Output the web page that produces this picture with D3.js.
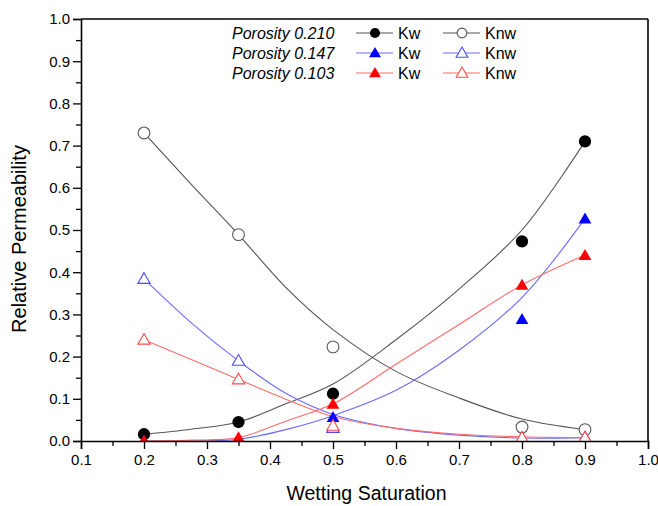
<!DOCTYPE html>
<html lang="en">
<head>
    <meta charset="UTF-8">
    <script src="https://cdn.jsdelivr.net/npm/d3@7"></script>
    <style>
        body { margin: 0; background: #fff; }
        text { font-family: Arial, "Liberation Sans", sans-serif; }
    </style>
</head>
<body>
<div id="chart"></div>
<script>
    // Measured points (x = wetting saturation)
    const satPts = [0.2, 0.35, 0.5, 0.8, 0.9];
    const kw210 = [0.016, 0.045, 0.112, 0.473, 0.710];
    const knw210 = [0.730, 0.489, 0.223, 0.033, 0.027];
    const kw147 = [0.0, 0.0, 0.056, 0.288, 0.526];
    const knw147 = [0.384, 0.190, 0.031, 0.005, 0.008];
    const kw103 = [0.0, 0.008, 0.087, 0.369, 0.440];
    const knw103 = [0.240, 0.146, 0.036, 0.008, 0.008];

    // Fitted curves at these saturations
    const fitSat = [0.2, 0.275, 0.35, 0.425, 0.5, 0.6, 0.7, 0.8, 0.9];
    const fitKw210 = [0.016, 0.028, 0.045, 0.088, 0.135, 0.240, 0.360, 0.500, 0.710];
    const fitKnw210 = [0.730, 0.608, 0.489, 0.364, 0.264, 0.165, 0.102, 0.052, 0.027];
    const fitKw147 = [0.0, 0.0, 0.004, 0.027, 0.060, 0.120, 0.215, 0.340, 0.527];
    const fitKnw147 = [0.384, 0.280, 0.190, 0.113, 0.063, 0.030, 0.014, 0.007, 0.008];
    const fitKw103 = [0.0, 0.002, 0.008, 0.047, 0.088, 0.182, 0.276, 0.370, 0.441];
    const fitKnw103 = [0.240, 0.193, 0.146, 0.099, 0.058, 0.030, 0.016, 0.010, 0.008];

    const legendLabels = ["Porosity 0.210", "Porosity 0.147", "Porosity 0.103"];
    const xTicks = [0.1, 0.2, 0.3, 0.4, 0.5, 0.6, 0.7, 0.8, 0.9, 1.0];
    const yTicks = [0.0, 0.1, 0.2, 0.3, 0.4, 0.5, 0.6, 0.7, 0.8, 0.9, 1.0];

    const WIDTH = 658, HEIGHT = 506;
    const margin = { top: 19, right: 10, bottom: 65, left: 81 };
    const w = WIDTH - margin.left - margin.right;
    const h = HEIGHT - margin.top - margin.bottom;

    // series styling: line colour, marker colour, marker type, filled?
    const series = [
        { pts: kw210, fit: fitKw210, line: "#555", mark: "#000", sym: d3.symbolCircle, size: 118, legSize: 80, fill: true },
        { pts: knw210, fit: fitKnw210, line: "#555", mark: "#555", sym: d3.symbolCircle, size: 110, legSize: 75, fill: false },
        { pts: kw147, fit: fitKw147, line: "#6b6bff", mark: "#0000ff", sym: d3.symbolTriangle, size: 70, legSize: 62, fill: true },
        { pts: knw147, fit: fitKnw147, line: "#6b6bff", mark: "#4a4aff", sym: d3.symbolTriangle, size: 66, legSize: 60, fill: false },
        { pts: kw103, fit: fitKw103, line: "#ff6b6b", mark: "#ff0000", sym: d3.symbolTriangle, size: 70, legSize: 62, fill: true },
        { pts: knw103, fit: fitKnw103, line: "#ff6b6b", mark: "#ff4a4a", sym: d3.symbolTriangle, size: 66, legSize: 60, fill: false },
    ];

    const svg = d3.select("#chart").append("svg")
        .attr("width", WIDTH)
        .attr("height", HEIGHT);

    const g = svg.append("g")
        .attr("transform", `translate(${margin.left},${margin.top})`);

    const x = d3.scaleLinear().domain([0.1, 1.0]).range([0, w]);
    const y = d3.scaleLinear().domain([0, 1.0]).range([h, 0]);

    g.append("clipPath").attr("id", "plotclip")
        .append("rect").attr("width", w).attr("height", h);

    const plot = g.append("g").attr("clip-path", "url(#plotclip)");

    // fitted lines
    const lineGen = d3.line()
        .x(d => x(d[0]))
        .y(d => y(d[1]))
        .curve(d3.curveCatmullRom.alpha(0.5));

    series.forEach(s => {
        plot.append("path")
            .datum(fitSat.map((v, i) => [v, s.fit[i]]))
            .attr("d", lineGen)
            .attr("fill", "none")
            .attr("stroke", s.line)
            .attr("stroke-width", 1.1);
    });

    // markers
    function symOffset(s, size) {
        // d3 triangles sit on the centroid; shift so the bbox is centred
        return s.sym === d3.symbolTriangle ? Math.sqrt(size / (3 * Math.sqrt(3))) * 0.25 : 0;
    }
    series.forEach(s => {
        plot.selectAll(null)
            .data(satPts.map((v, i) => [v, s.pts[i]]))
            .enter()
            .append("path")
            .attr("d", d3.symbol(s.sym, s.size))
            .attr("transform", d => `translate(${x(d[0])},${y(d[1]) + symOffset(s, s.size)})`)
            .attr("fill", s.fill ? s.mark : "#fff")
            .attr("stroke", s.mark)
            .attr("stroke-width", s.fill ? 0 : 1.1);
    });

    // axes
    const minorX = d3.range(0.15, 1.0, 0.1);
    const minorY = d3.range(0.05, 1.0, 0.1);

    g.append("g").attr("transform", `translate(0,${h})`)
        .call(d3.axisBottom(x).tickValues(xTicks).tickFormat(d3.format(".1f")).tickSize(8).tickPadding(5));
    g.append("g").attr("transform", `translate(0,${h})`)
        .call(d3.axisBottom(x).tickValues(minorX).tickFormat("").tickSize(5))
        .select(".domain").remove();

    g.append("g")
        .call(d3.axisLeft(y).tickValues(yTicks).tickFormat(d3.format(".1f")).tickSize(8).tickPadding(3));
    g.append("g")
        .call(d3.axisLeft(y).tickValues(minorY).tickFormat("").tickSize(5))
        .select(".domain").remove();

    g.selectAll(".tick line").attr("stroke", "#000").attr("stroke-width", 1.3);
    g.selectAll(".domain").attr("stroke", "#000").attr("stroke-width", 1.6);
    g.selectAll(".tick text").attr("font-size", 15).attr("fill", "#000")
        .attr("font-family", "Arial, 'Liberation Sans', sans-serif");

    // frame top and right
    g.append("line").attr("x1", 0).attr("x2", w).attr("y1", 0).attr("y2", 0)
        .attr("stroke", "#000").attr("stroke-width", 1.6);
    g.append("line").attr("x1", w).attr("x2", w).attr("y1", 0).attr("y2", h)
        .attr("stroke", "#000").attr("stroke-width", 1.6);

    // axis titles
    svg.append("text")
        .attr("x", margin.left + w / 2 + 2)
        .attr("y", 500)
        .attr("text-anchor", "middle")
        .attr("font-size", 19.5)
        .text("Wetting Saturation");

    svg.append("text")
        .attr("transform", `translate(26,239) rotate(-90)`)
        .attr("text-anchor", "middle")
        .attr("font-size", 20)
        .text("Relative Permeability");

    // legend
    const legend = svg.append("g");
    legendLabels.forEach((lab, i) => {
        const ly = 33 + i * 20;
        legend.append("text")
            .attr("x", 232).attr("y", ly + 5.5)
            .attr("font-size", 16)
            .attr("font-style", "italic")
            .text(lab);
        [0, 1].forEach(k => {
            const s = series[i * 2 + k];
            const x0 = k === 0 ? 356 : 443;
            legend.append("line")
                .attr("x1", x0).attr("x2", x0 + 37)
                .attr("y1", ly).attr("y2", ly)
                .attr("stroke", s.line).attr("stroke-width", 1.1);
            legend.append("path")
                .attr("d", d3.symbol(s.sym, s.legSize))
                .attr("transform", `translate(${x0 + 19},${ly + symOffset(s, s.legSize)})`)
                .attr("fill", s.fill ? s.mark : "#fff")
                .attr("stroke", s.mark)
                .attr("stroke-width", s.fill ? 0 : 1.1);
            legend.append("text")
                .attr("x", x0 + 42).attr("y", ly + 5.5)
                .attr("font-size", 16)
                .text(k === 0 ? "Kw" : "Knw");
        });
    });
</script>
</body>
</html>
